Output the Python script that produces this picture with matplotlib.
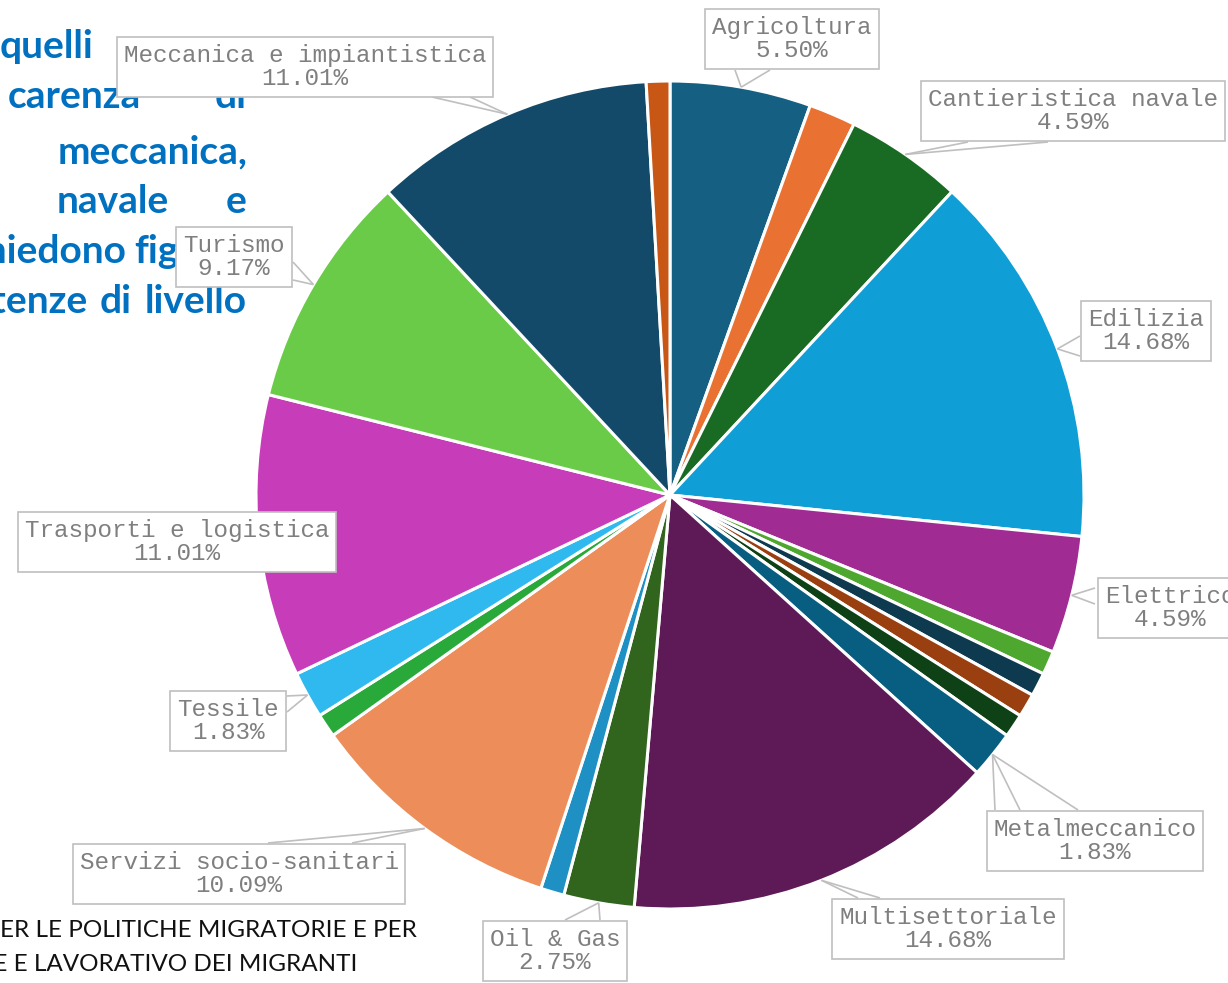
import numpy as np
import matplotlib
matplotlib.use("Agg")
import matplotlib.pyplot as plt

# slices, clockwise from 12 o'clock (percent of total)
sectors = ["Agricoltura", "s2", "Cantieristica navale", "Edilizia", "Elettrico",
           "s6", "s7", "s8", "s9", "Metalmeccanico", "Multisettoriale", "Oil & Gas",
           "s13", "Servizi socio-sanitari", "s15", "Tessile", "Trasporti e logistica",
           "Turismo", "Meccanica e impiantistica", "s20"]
shares = [5.50, 1.83, 4.59, 14.68, 4.59, 0.92, 0.92, 0.92, 0.92, 1.83, 14.68, 2.75,
          0.92, 10.09, 0.92, 1.83, 11.01, 9.17, 11.01, 0.92]
colors = ["#156082", "#E97132", "#196B24", "#0F9ED5", "#A02B93", "#4EA72E", "#0E3A4F",
          "#9A3F10", "#0F4116", "#085E80", "#5E1A56", "#31641D", "#1F90C4", "#EC8D5A",
          "#2AA93B", "#30B9EE", "#C73CB9", "#6ACB48", "#134A69", "#C85615"]

# label boxes: sector -> (box centre x, y in px, tail base points)
labelled = {
    "Agricoltura": ((792, 39), [(735, 70), (770, 70)]),
    "Cantieristica navale": ((1073, 111), [(968, 142), (1048, 142)]),
    "Edilizia": ((1146, 331), [(1080, 336), (1080, 356)]),
    "Elettrico": ((1170, 608), [(1095, 588), (1095, 604)]),
    "Metalmeccanico": ((1095, 841), [(995, 810), (1020, 810), (1078, 810)]),
    "Multisettoriale": ((948, 929), [(858, 898), (880, 898)]),
    "Oil & Gas": ((555, 951), [(565, 920), (600, 920)]),
    "Servizi socio-sanitari": ((239, 874), [(268, 843), (352, 843)]),
    "Tessile": ((228, 721), [(287, 696), (287, 712)]),
    "Trasporti e logistica": ((177, 542), []),
    "Turismo": ((234, 257), [(293, 262), (293, 280)]),
    "Meccanica e impiantistica": ((305, 67), [(432, 97), (470, 97)]),
}

W, H = 1228, 983
cx, cy, R = 670, 495, 414

fig = plt.figure(figsize=(W / 100, H / 100), dpi=100)
ax = fig.add_axes([0, 0, 1, 1])

# document text behind the chart (justified column, partly hidden)
blue = "#0070C0"
body = dict(family=["Lato", "DejaVu Sans"], fontsize=28, fontweight="bold", color=blue,
            va="baseline", zorder=0)
words = [("quelli", 0, 58, "left"),
         ("carenza", 8, 108, "left"), ("di", 247, 108, "right"),
         ("meccanica,", 247, 163, "right"),
         ("navale", 57, 213, "left"), ("e", 247, 213, "right"),
         ("chiedono", 127, 263, "right"), ("figure", 134, 263, "left"),
         ("competenze", 88, 313, "right"), ("di", 100, 313, "left"),
         ("livello", 247, 313, "right")]
for w, x, y, ha in words:
    ax.text(x, y, w, ha=ha, **body)

foot = dict(family=["Lato", "DejaVu Sans"], fontsize=17.5, color="#111111",
            va="baseline", zorder=0)
ax.text(0, 937, "ER LE POLITICHE MIGRATORIE E PER", ha="left", **foot)
ax.text(357, 971, "SOCIALE E LAVORATIVO DEI MIGRANTI", ha="right", **foot)

# pie: y axis is inverted, so counterclockwise in data = clockwise on screen
wedges, _ = ax.pie(shares, colors=colors, startangle=-90, counterclock=True,
                   radius=R, center=(cx, cy),
                   wedgeprops=dict(edgecolor="white", linewidth=2.2))
for wd in wedges:
    wd.set_zorder(2)

total = sum(shares)
start = 0.0
for name, v in zip(sectors, shares):
    mid = np.deg2rad((start + v / 2) / total * 360)
    start += v
    if name not in labelled:
        continue
    (bx, by), base = labelled[name]
    tip = (cx + R * np.sin(mid), cy - R * np.cos(mid))
    for p in base:
        ax.plot([p[0], tip[0]], [p[1], tip[1]], color="#BFBFBF", lw=1.2,
                zorder=3, solid_capstyle="butt")
    ax.text(bx, by, f"{name}\n{v:.2f}%", ha="center", va="center",
            family=["Liberation Mono", "DejaVu Sans Mono"], fontsize=17.5,
            color="#7F7F7F", linespacing=1.05, zorder=4,
            bbox=dict(boxstyle="square,pad=0.28", facecolor="white",
                      edgecolor="#BFBFBF", linewidth=1.2))

ax.set_xlim(0, W)
ax.set_ylim(H, 0)
ax.set_aspect("auto")
ax.axis("off")

fig.savefig("out.png", dpi=100)
